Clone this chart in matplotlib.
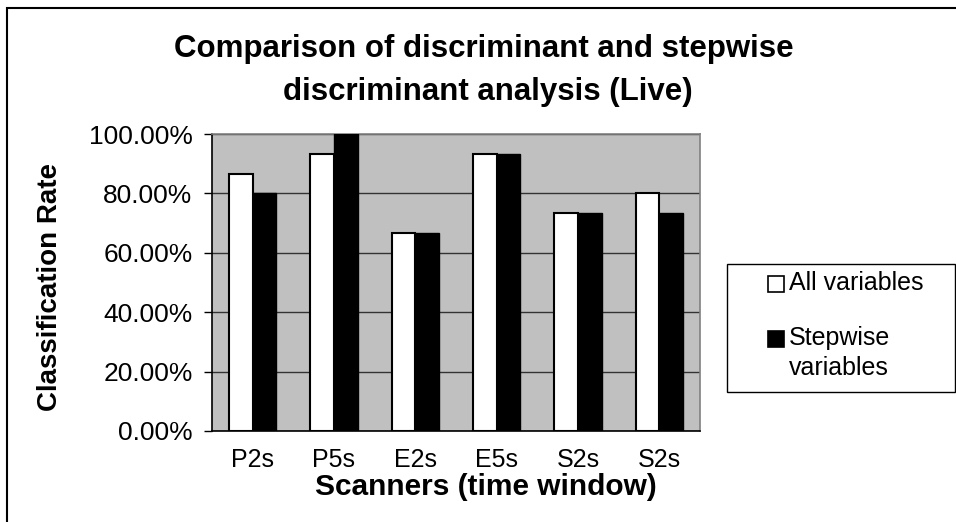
import numpy as np
import matplotlib
matplotlib.use('Agg')
import matplotlib.pyplot as plt
from matplotlib.patches import Rectangle
from matplotlib.ticker import FuncFormatter

plt.rcParams['font.family'] = ['Liberation Sans', 'DejaVu Sans']

# data
scanners = ['P2s', 'P5s', 'E2s', 'E5s', 'S2s', 'S2s']
all_vars = [86.67, 93.33, 66.67, 93.33, 73.33, 80.00]
stepwise_vars = [80.00, 100.00, 66.67, 93.33, 73.33, 73.33]
series_names = ['All variables', 'Stepwise\nvariables']
series_colors = ['white', 'black']
y_ticks = [0, 20, 40, 60, 80, 100]

W, H = 956, 522
fig = plt.figure(figsize=(W/100, H/100), dpi=100)

# outer chart border (runs off the right and bottom edges)
fig.patches.append(Rectangle((7/W, -0.1), 1.2, (H - 8)/H + 0.1, transform=fig.transFigure,
                             fill=False, edgecolor='black', lw=1.5))

ax = fig.add_axes([212/W, 91/H, 488/W, 297/H])
ax.set_facecolor('#c0c0c0')

x = np.arange(len(scanners))
bw = 0.29
ax.bar(x - bw/2, all_vars, bw, color=series_colors[0], edgecolor='black', lw=1.5, zorder=3)
ax.bar(x + bw/2, stepwise_vars, bw, color=series_colors[1], edgecolor='black', lw=1.0, zorder=3)

ax.set_xlim(-0.5, len(scanners) - 0.5)
ax.set_ylim(0, 100)
ax.set_yticks(y_ticks)
ax.yaxis.set_major_formatter(FuncFormatter(lambda v, p: f'{v:.2f}%'))
ax.set_xticks(x)
ax.set_xticklabels(scanners)
ax.grid(axis='y', color='#333333', lw=1.0, zorder=1)
ax.tick_params(axis='y', length=6, width=1, pad=8, labelsize=19)
ax.tick_params(axis='x', length=0, pad=12, labelsize=18)

for s in ['top', 'right']:
    ax.spines[s].set_color('#808080')
    ax.spines[s].set_linewidth(1.2)
for s in ['left', 'bottom']:
    ax.spines[s].set_color('black')
    ax.spines[s].set_linewidth(1.2)

# titles
fig.text(484/W, 1 - 57/H, 'Comparison of discriminant and stepwise', ha='center', va='baseline',
         fontsize=22.5, fontweight='bold')
fig.text(488/W, 1 - 100/H, 'discriminant analysis (Live)', ha='center', va='baseline',
         fontsize=22.5, fontweight='bold')
fig.text(486/W, 1 - 495/H, 'Scanners (time window)', ha='center', va='baseline',
         fontsize=21.5, fontweight='bold')
fig.text(50/W, 1 - 287/H, 'Classification Rate', ha='center', va='center', rotation=90,
         fontsize=20, fontweight='bold')

# legend, drawn by hand so the key lines up with the first line of each label
fig.patches.append(Rectangle((727/W, 1 - 392/H), (955 - 727)/W, 128/H, transform=fig.transFigure,
                             fill=False, edgecolor='black', lw=1.0))
key_base = [290, 345]   # baseline of first label line, px from top
text_base = [290, 375]  # baseline of last label line
for name, col, kb, tb in zip(series_names, series_colors, key_base, text_base):
    fig.patches.append(Rectangle((768/W, 1 - (kb + 2)/H), 16/W, 16/H, transform=fig.transFigure,
                                 facecolor=col, edgecolor='black', lw=1.2))
    fig.text(789/W, 1 - tb/H, name, ha='left', va='baseline', fontsize=18, linespacing=1.3)

fig.savefig('out.png', dpi=100)
